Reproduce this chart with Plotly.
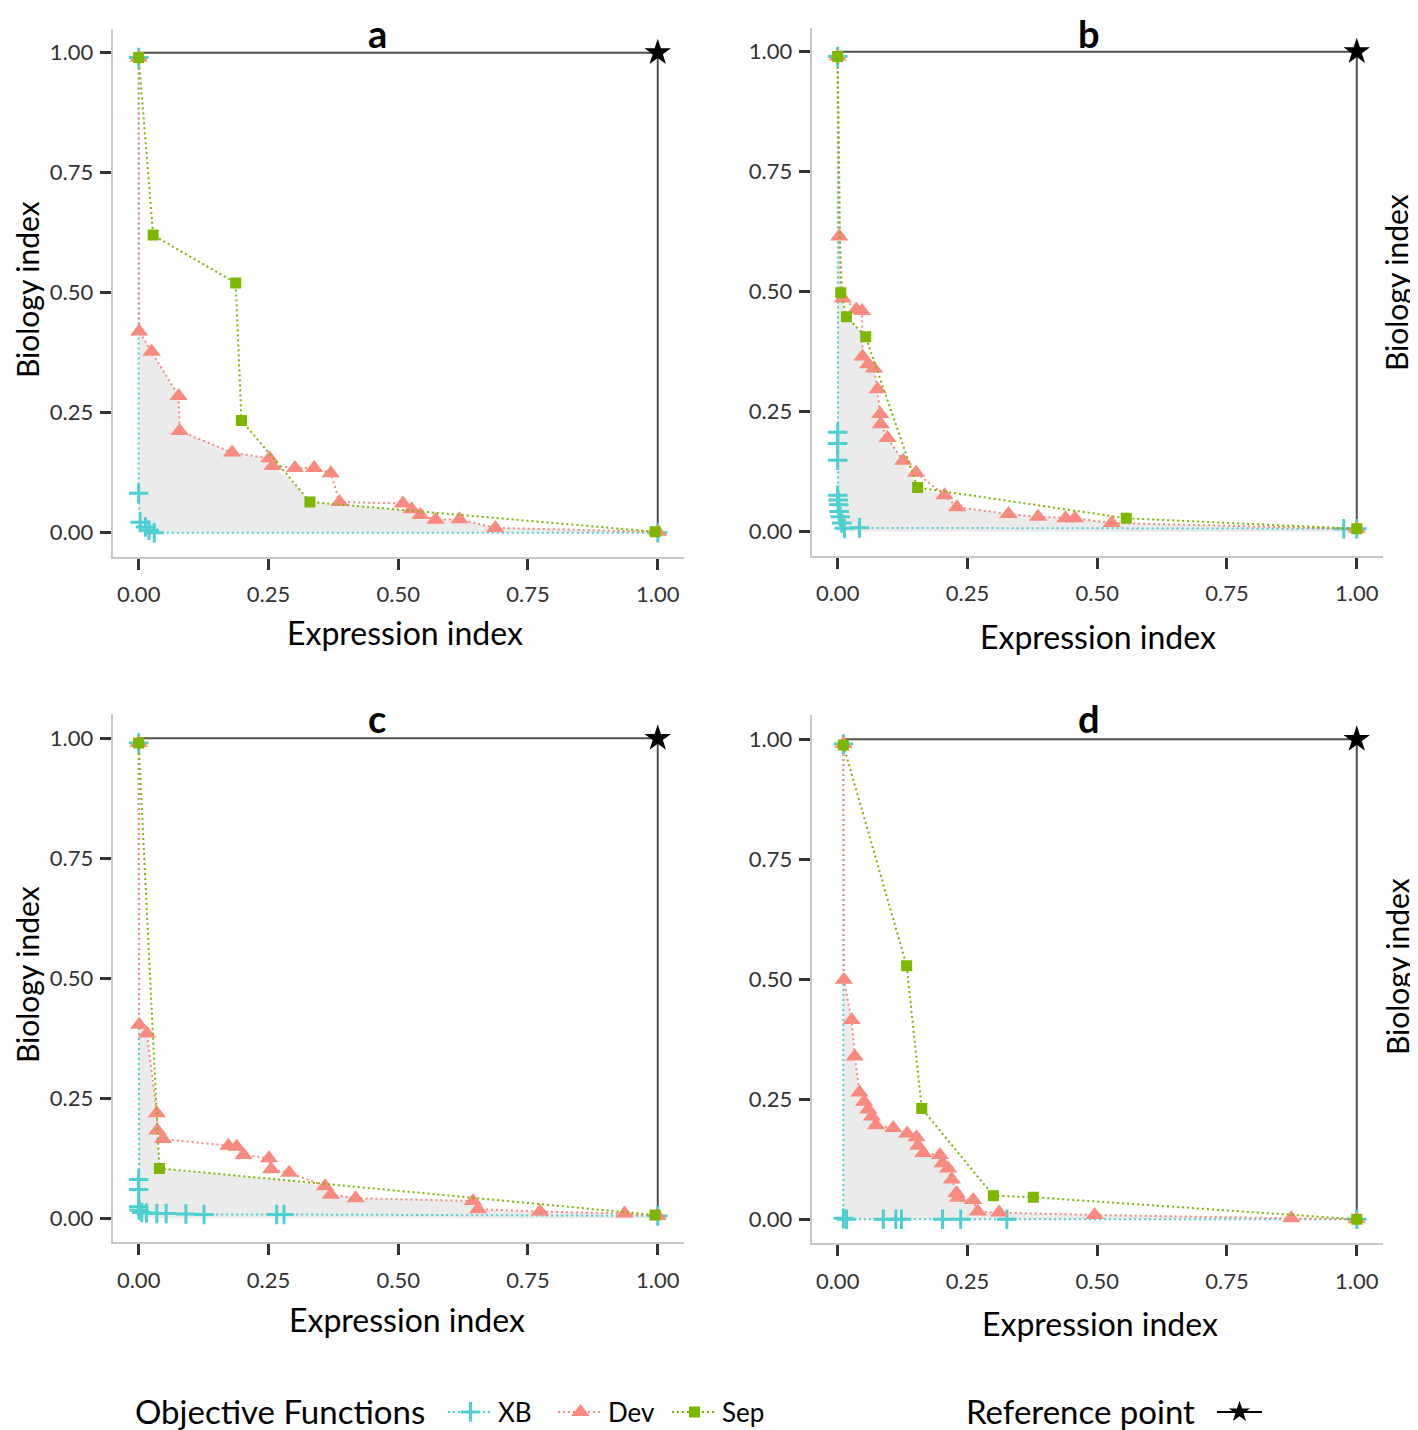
import numpy as np
import plotly.graph_objects as go

# ---- data ----
# panel a
xb_a_x = [0, 0, 0.003, 0.013, 0.02, 0.03, 1.0]
xb_a_y = [0.99, 0.082, 0.022, 0.012, 0.005, 0.0, 0.0]
dev_a_x = [0, 0.001, 0.025, 0.077, 0.079, 0.180, 0.252, 0.258, 0.301, 0.338, 0.370, 0.387,
           0.509, 0.526, 0.543, 0.572, 0.618, 0.687, 1.0]
dev_a_y = [0.99, 0.419, 0.377, 0.285, 0.212, 0.167, 0.155, 0.139, 0.135, 0.135, 0.124, 0.064,
           0.061, 0.049, 0.037, 0.027, 0.028, 0.010, 0.002]
sep_a_x = [0, 0.028, 0.187, 0.198, 0.330, 0.995]
sep_a_y = [0.99, 0.62, 0.52, 0.234, 0.064, 0.002]

# panel b
xb_b_x = [0, 0, 0, 0, 0, 0.001, 0.002, 0.003, 0.005, 0.008, 0.013, 0.042, 0.975, 1.0]
xb_b_y = [0.99, 0.207, 0.184, 0.149, 0.076, 0.066, 0.056, 0.042, 0.031, 0.018, 0.007, 0.008, 0.006, 0.006]
dev_b_x = [0, 0.003, 0.010, 0.036, 0.047, 0.048, 0.059, 0.070, 0.077, 0.082, 0.083, 0.096, 0.126,
           0.151, 0.206, 0.230, 0.329, 0.386, 0.439, 0.457, 0.528, 1.0]
dev_b_y = [0.99, 0.615, 0.486, 0.463, 0.460, 0.365, 0.349, 0.340, 0.297, 0.245, 0.224, 0.195, 0.148,
           0.123, 0.076, 0.051, 0.037, 0.031, 0.028, 0.028, 0.018, 0.006]
sep_b_x = [0, 0.006, 0.017, 0.054, 0.154, 0.556, 1.0]
sep_b_y = [0.99, 0.498, 0.448, 0.406, 0.092, 0.028, 0.006]

# panel c
xb_c_x = [0, 0, 0, 0, 0.001, 0.006, 0.015, 0.035, 0.053, 0.091, 0.126, 0.266, 0.280, 1.0]
xb_c_y = [0.99, 0.081, 0.060, 0.024, 0.017, 0.012, 0.011, 0.010, 0.010, 0.009, 0.008, 0.008, 0.008, 0.005]
dev_c_x = [0, 0.001, 0.016, 0.035, 0.036, 0.047, 0.173, 0.189, 0.202, 0.251, 0.255, 0.290, 0.359,
           0.370, 0.418, 0.644, 0.654, 0.773, 0.936, 1.0]
dev_c_y = [0.99, 0.403, 0.385, 0.219, 0.183, 0.165, 0.151, 0.149, 0.132, 0.125, 0.102, 0.095, 0.067,
           0.049, 0.042, 0.036, 0.019, 0.014, 0.010, 0.005]
sep_c_x = [0, 0.040, 0.995]
sep_c_y = [0.99, 0.104, 0.007]

# panel d
xb_d_x = [0.011, 0.011, 0.017, 0.088, 0.112, 0.123, 0.202, 0.237, 0.326, 1.0]
xb_d_y = [0.99, 0.002, 0.0, 0.0, 0.0, 0.0, 0.0, 0.0, 0.0, 0.0]
dev_d_x = [0.011, 0.012, 0.027, 0.033, 0.042, 0.051, 0.059, 0.066, 0.074, 0.107, 0.134, 0.152, 0.155,
           0.165, 0.197, 0.202, 0.213, 0.220, 0.229, 0.232, 0.261, 0.270, 0.311, 0.495, 0.874, 1.0]
dev_d_y = [0.99, 0.499, 0.415, 0.339, 0.264, 0.245, 0.229, 0.214, 0.196, 0.190, 0.179, 0.171, 0.153,
           0.138, 0.134, 0.117, 0.106, 0.083, 0.055, 0.045, 0.040, 0.016, 0.014, 0.009, 0.002, 0.0]
sep_d_x = [0.011, 0.133, 0.162, 0.300, 0.377, 1.0]
sep_d_y = [0.988, 0.528, 0.231, 0.049, 0.046, 0.0]

ref_point = (1.0, 1.0)
panel_labels = ["a", "b", "c", "d"]
tick_vals = [0, 0.25, 0.5, 0.75, 1.0]
tick_text = ["0.00", "0.25", "0.50", "0.75", "1.00"]

panels = [
    (xb_a_x, xb_a_y, dev_a_x, dev_a_y, sep_a_x, sep_a_y),
    (xb_b_x, xb_b_y, dev_b_x, dev_b_y, sep_b_x, sep_b_y),
    (xb_c_x, xb_c_y, dev_c_x, dev_c_y, sep_c_x, sep_c_y),
    (xb_d_x, xb_d_y, dev_d_x, dev_d_y, sep_d_x, sep_d_y),
]

XB_COL = "#4ECFD2"
DEV_COL = "#F98A80"
SEP_COL = "#7DB700"
FONT = "Lato"

# page has an 8px body margin, so the figure is 8px smaller and positions are shifted
OFF = 8
W, H = 1418 - OFF, 1430 - OFF


def px(x):
    return (x - OFF) / W


def py(y):
    return 1 - (y - OFF) / H


# panel boxes in page pixels: (left, right, top, bottom)
boxes = [(112.7, 683.7, 28.7, 556.7), (811.7, 1382.7, 27.7, 555.7),
         (112.7, 683.7, 714.3, 1242.3), (811.7, 1382.7, 715.3, 1243.3)]

fig = go.Figure()

for i, (xbx, xby, dvx, dvy, spx, spy) in enumerate(panels):
    xa = "x" if i == 0 else f"x{i+1}"
    ya = "y" if i == 0 else f"y{i+1}"
    first = i == 0

    # shaded region under the lower of the Dev / Sep fronts
    grid = np.union1d(dvx, spx)
    env = np.minimum(np.interp(grid, dvx, dvy), np.interp(grid, spx, spy))
    fig.add_trace(go.Scatter(x=grid, y=env, mode="lines", fill="tozeroy",
                             fillcolor="#EBEBEB", line=dict(width=0),
                             showlegend=False, hoverinfo="skip", xaxis=xa, yaxis=ya))

    # reference box to the reference point
    fig.add_trace(go.Scatter(x=[xbx[0], ref_point[0], ref_point[0]],
                             y=[ref_point[1], ref_point[1], 0],
                             mode="lines", line=dict(color="#505050", width=2),
                             showlegend=False, hoverinfo="skip", xaxis=xa, yaxis=ya))

    fig.add_trace(go.Scatter(x=xbx, y=xby, mode="lines+markers", name="XB",
                             legend="legend", showlegend=first,
                             line=dict(color=XB_COL, width=2, dash="2px,3px"),
                             marker=dict(symbol="cross-thin", size=14,
                                         line=dict(width=3, color=XB_COL)),
                             xaxis=xa, yaxis=ya))
    fig.add_trace(go.Scatter(x=dvx, y=dvy, mode="lines+markers", name="Dev",
                             legend="legend3", showlegend=first,
                             line=dict(color=DEV_COL, width=2, dash="2px,3px"),
                             marker=dict(symbol="triangle-up", size=16, color=DEV_COL),
                             xaxis=xa, yaxis=ya))
    fig.add_trace(go.Scatter(x=spx, y=spy, mode="lines+markers", name="Sep",
                             legend="legend4", showlegend=first,
                             line=dict(color=SEP_COL, width=2, dash="2px,3px"),
                             marker=dict(symbol="square", size=11, color=SEP_COL),
                             xaxis=xa, yaxis=ya))
    fig.add_trace(go.Scatter(x=[ref_point[0]], y=[ref_point[1]], mode="lines+markers",
                             name="", legend="legend2", showlegend=first,
                             line=dict(color="black", width=2),
                             marker=dict(symbol="star", size=20, color="black"),
                             xaxis=xa, yaxis=ya))

axis_common = dict(range=[-0.05, 1.05], tickvals=tick_vals, ticktext=tick_text,
                   showline=True, linecolor="#C8C8C8", linewidth=2,
                   ticks="outside", ticklen=11, tickwidth=3, tickcolor="#333333",
                   showgrid=False, zeroline=False, fixedrange=True,
                   tickfont=dict(family=FONT, size=22, color="#333333"))

layout = {}
for i, (l, r, t, b) in enumerate(boxes):
    sfx = "" if i == 0 else str(i + 1)
    layout[f"xaxis{sfx}"] = dict(axis_common, domain=[px(l), px(r)],
                                 anchor=f"y{sfx}", ticklabelstandoff=6)
    layout[f"yaxis{sfx}"] = dict(axis_common, domain=[py(b), py(t)],
                                 anchor=f"x{sfx}", ticklabelstandoff=2)

annotations = []
title_top = [(377, 8), (1089, 8), (377, 693), (1089, 693)]
xlab_pos = [(405, 632), (1098, 636), (407, 1319), (1100, 1323)]
ylab_pos = [(27, 290), (1396, 283), (27, 975), (1397, 967)]
for i in range(4):
    annotations.append(dict(text=f"<b>{panel_labels[i]}</b>", x=px(title_top[i][0]),
                            y=py(title_top[i][1]), xref="paper", yref="paper",
                            showarrow=False, xanchor="center", yanchor="top",
                            font=dict(family=FONT, size=38, color="black")))
    annotations.append(dict(text="Expression index", x=px(xlab_pos[i][0]),
                            y=py(xlab_pos[i][1]), xref="paper", yref="paper",
                            showarrow=False, xanchor="center", yanchor="middle",
                            font=dict(family=FONT, size=32, color="black")))
    annotations.append(dict(text="Biology index", x=px(ylab_pos[i][0]),
                            y=py(ylab_pos[i][1]), xref="paper", yref="paper",
                            showarrow=False, xanchor="center", yanchor="middle",
                            textangle=-90,
                            font=dict(family=FONT, size=30, color="black")))

# legend headings
annotations.append(dict(text="Objective Functions", x=px(133), y=py(1411),
                        xref="paper", yref="paper", showarrow=False,
                        xanchor="left", yanchor="middle",
                        font=dict(family=FONT, size=33, color="black")))
annotations.append(dict(text="Reference point", x=px(964), y=py(1411),
                        xref="paper", yref="paper", showarrow=False,
                        xanchor="left", yanchor="middle",
                        font=dict(family=FONT, size=33, color="black")))


def legend_at(x):
    return dict(orientation="h", x=px(x), y=py(1412), xanchor="left", yanchor="middle",
                itemwidth=45, font=dict(family=FONT, size=26, color="black"),
                bgcolor="rgba(0,0,0,0)")


fig.update_layout(
    **layout,
    annotations=annotations,
    width=W, height=H,
    margin=dict(l=0, r=0, t=0, b=0, autoexpand=False),
    plot_bgcolor="white", paper_bgcolor="white",
    dragmode=False,
    legend=legend_at(443),
    legend3=legend_at(553),
    legend4=legend_at(667),
    legend2=legend_at(1212),
)

fig.write_html("out.html")
